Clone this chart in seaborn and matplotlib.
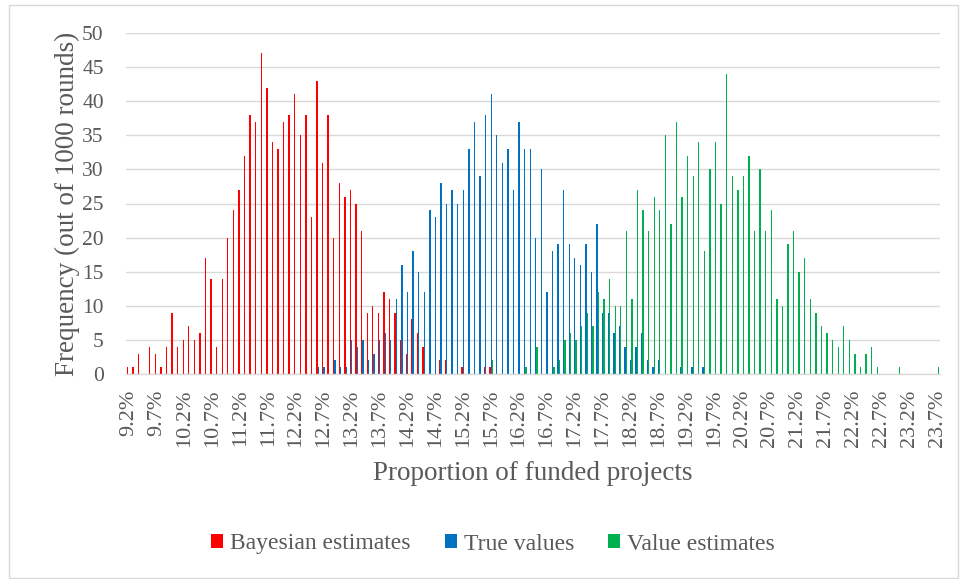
import numpy as np
import pandas as pd
import matplotlib.pyplot as plt
import seaborn as sns
from matplotlib.patches import Rectangle

# categories: 9.2% .. 23.7% in 0.1% steps
proportions = [f"{9.2 + 0.1 * k:.1f}%" for k in range(146)]

# Bayesian estimates, starting at 9.2%
bayes_vals = [1, 1, 3, 0, 4, 3, 1, 4, 9, 4, 5, 7, 5, 6, 17, 14, 4, 14, 20, 24,
              27, 32, 38, 37, 47, 42, 34, 33, 37, 38, 41, 35, 38, 23, 43, 31, 38, 20, 28, 26,
              27, 25, 21, 9, 10, 9, 12, 11, 9, 5, 3, 8, 6, 4, 0, 0, 2, 2, 0, 0,
              1, 0, 0, 0, 1, 1]

# True values, starting at 12.6%
true_start = 34
true_vals = [1, 1, 0, 2, 1, 1, 5, 4, 5, 2, 3, 5, 6, 5, 11, 16, 12, 18, 15, 12,
             24, 23, 28, 25, 27, 25, 27, 33, 37, 29, 38, 41, 35, 31, 33, 27, 37, 33, 33, 20,
             30, 12, 18, 19, 27, 19, 17, 16, 19, 15, 22, 9, 9, 6, 7, 4, 2, 4, 6, 2,
             1, 2, 0, 0, 0, 1, 0, 1, 0, 1]

# Value estimates, starting at 15.7%
value_start = 65
value_vals = [2, 0, 0, 0, 0, 0, 1, 0, 4, 0, 0, 1, 2, 5, 6, 5, 7, 9, 7, 12,
              11, 14, 10, 10, 21, 11, 27, 24, 21, 26, 24, 35, 22, 37, 26, 32, 29, 34, 18, 30,
              34, 25, 44, 29, 27, 29, 32, 21, 30, 21, 24, 11, 10, 19, 21, 15, 17, 11, 9, 7,
              6, 5, 4, 7, 5, 3, 1, 3, 4, 1, 0, 0, 0, 1, 0, 0, 0, 0, 0, 0, 1]

series_names = ["Bayesian estimates", "True values", "Value estimates"]
colors = ["#FF0000", "#0070C0", "#00B050"]


def full_series(vals, start):
    out = [0] * len(proportions)
    for i, v in enumerate(vals):
        out[start + i] = v
    return out


df = pd.DataFrame({
    "Proportion": proportions * 3,
    "Frequency": full_series(bayes_vals, 0) + full_series(true_vals, true_start)
    + full_series(value_vals, value_start),
    "Series": [s for s in series_names for _ in proportions],
})

sns.set_theme(style="white")
plt.rcParams["font.family"] = ["Liberation Serif", "DejaVu Serif"]
text_color = "#595959"
grid_color = "#D9D9D9"

fig = plt.figure(figsize=(9.61, 5.79), dpi=100)
ax = fig.add_axes([126 / 961, 1 - 374 / 579, 814 / 961, 341 / 579])

sns.barplot(
    data=df,
    x="Proportion",
    y="Frequency",
    hue="Series",
    order=proportions,
    hue_order=series_names,
    palette=colors,
    saturation=1,
    width=0.72,
    errorbar=None,
    linewidth=0,
    ax=ax,
)

ax.set_xlim(-0.5, len(proportions) - 0.5)
ax.set_ylim(0, 50)
ax.set_yticks(np.arange(0, 51, 5))
ax.yaxis.grid(True, color=grid_color, linewidth=1.0)
ax.set_axisbelow(True)
for side in ["top", "right", "left"]:
    ax.spines[side].set_visible(False)
ax.spines["bottom"].set_color(grid_color)
ax.spines["bottom"].set_linewidth(1.0)

ax.set_xticks(range(0, len(proportions), 5))
ax.set_xticklabels(proportions[::5], rotation=90)
ax.tick_params(axis="x", length=0, pad=11, labelsize=16, labelcolor=text_color)
ax.tick_params(axis="y", length=0, pad=16, labelsize=15.5, labelcolor=text_color)

ax.set_ylabel("Frequency (out of 1000 rounds)", fontsize=19.5, color=text_color)
ax.yaxis.set_label_coords(-0.057, 0.5)
ax.set_xlabel("Proportion of funded projects", fontsize=19.5, color=text_color)
ax.xaxis.set_label_coords(0.5, -0.255)

handles, labels = ax.get_legend_handles_labels()
ax.get_legend().remove()
fig.legend(handles, labels, loc="center", bbox_to_anchor=(0.513, 1 - 544 / 579),
           ncol=3, frameon=False, fontsize=17, labelcolor=text_color,
           handlelength=0.5, handleheight=0.5, handletextpad=0.3, columnspacing=1.45)

fig.patches.append(Rectangle((9 / 961, 1 / 579), 949 / 961, 573 / 579,
                             transform=fig.transFigure, fill=False,
                             edgecolor=grid_color, linewidth=1.0))

fig.savefig("out.png", dpi=100)
